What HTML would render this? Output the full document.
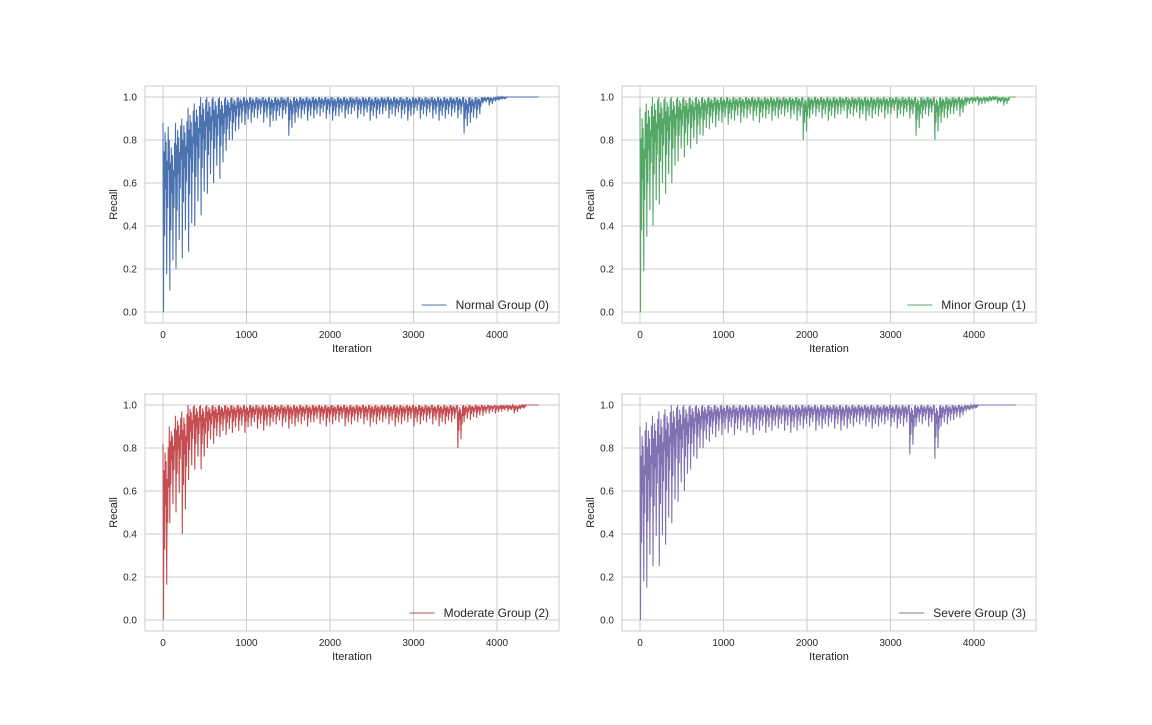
<!DOCTYPE html>
<html><head><meta charset="utf-8"><style>
html,body{margin:0;padding:0;background:#fff;}
svg text{font-family:"Liberation Sans",sans-serif;fill:#262626;}
</style></head><body>
<svg id="fig" width="1152" height="720" xmlns="http://www.w3.org/2000/svg"></svg>
<script>
const binWidth = 75;
const xTicks = [0, 1000, 2000, 3000, 4000];
const yTicks = [0.0, 0.2, 0.4, 0.6, 0.8, 1.0];
const seriesNames = ["Normal Group (0)", "Minor Group (1)", "Moderate Group (2)", "Severe Group (3)"];
const seriesColors = ["#4c72b0", "#55a868", "#c44e52", "#8172b2"];
const normalLow = [0,0.1,0.2,0.25,0.28,0.4,0.45,0.55,0.6,0.62,0.75,0.8,0.85,0.87,0.88,0.9,0.88,0.86,0.89,0.9,0.82,0.88,0.9,0.89,0.9,0.91,0.9,0.89,0.91,0.9,0.92,0.9,0.91,0.89,0.9,0.92,0.9,0.91,0.9,0.89,0.92,0.9,0.91,0.9,0.89,0.9,0.91,0.9,0.83,0.88,0.9,0.97,0.96,0.98,0.99,1,1,1,1,1];
const normalHigh = [0.88,0.8,0.88,0.9,0.95,0.97,1,1,1,1,1,1,1,1,1,1,1,1,1,1,1,1,1,1,1,1,1,1,1,1,1,1,1,1,1,1,1,1,1,1,1,1,1,1,1,1,1,1,1,1,1,1,1,1,1,1,1,1,1,1];
const minorLow = [0,0.35,0.4,0.5,0.55,0.6,0.7,0.72,0.76,0.78,0.82,0.85,0.86,0.88,0.87,0.89,0.88,0.9,0.89,0.88,0.9,0.89,0.9,0.91,0.9,0.89,0.8,0.9,0.91,0.9,0.89,0.9,0.92,0.9,0.91,0.9,0.89,0.9,0.91,0.9,0.92,0.9,0.91,0.9,0.82,0.9,0.91,0.8,0.88,0.9,0.92,0.91,0.96,0.97,0.96,0.97,0.98,0.97,0.96,1];
const minorHigh = [0.95,0.97,1,1,1,1,1,1,1,1,1,1,1,1,1,1,1,1,1,1,1,1,1,1,1,1,1,1,1,1,1,1,1,1,1,1,1,1,1,1,1,1,1,1,1,1,1,1,1,1,1,1,1,1,1,1,1,1,1,1];
const moderateLow = [0,0.45,0.5,0.4,0.65,0.7,0.7,0.8,0.82,0.85,0.86,0.87,0.88,0.87,0.9,0.89,0.88,0.9,0.91,0.9,0.89,0.9,0.91,0.9,0.92,0.91,0.9,0.91,0.92,0.9,0.91,0.92,0.91,0.9,0.91,0.92,0.91,0.9,0.91,0.92,0.9,0.91,0.92,0.91,0.9,0.91,0.92,0.8,0.92,0.93,0.94,0.95,0.96,0.96,0.97,0.97,0.96,0.98,1,1];
const moderateHigh = [0.82,0.9,0.95,0.97,1,1,1,1,1,1,1,1,1,1,1,1,1,1,1,1,1,1,1,1,1,1,1,1,1,1,1,1,1,1,1,1,1,1,1,1,1,1,1,1,1,1,1,1,1,1,1,1,1,1,1,1,1,1,1,1];
const severeLow = [0,0.15,0.25,0.25,0.35,0.45,0.55,0.6,0.7,0.75,0.8,0.83,0.85,0.86,0.87,0.86,0.88,0.87,0.86,0.88,0.87,0.88,0.89,0.88,0.87,0.88,0.89,0.9,0.88,0.89,0.9,0.89,0.88,0.89,0.9,0.91,0.9,0.89,0.9,0.91,0.9,0.89,0.9,0.77,0.9,0.91,0.9,0.75,0.9,0.91,0.93,0.94,0.97,0.98,1,1,1,1,1,1];
const severeHigh = [0.9,0.92,0.95,0.97,0.98,1,1,1,1,1,1,1,1,1,1,1,1,1,1,1,1,1,1,1,1,1,1,1,1,1,1,1,1,1,1,1,1,1,1,1,1,1,1,1,1,1,1,1,1,1,1,1,1,1,1,1,1,1,1,1];
const lows = [normalLow, minorLow, moderateLow, severeLow];
const highs = [normalHigh, minorHigh, moderateHigh, severeHigh];

const NS = "http://www.w3.org/2000/svg";
const svg = document.getElementById("fig");
function mk(tag, attrs, parent){const e=document.createElementNS(NS,tag);for(const k in attrs)e.setAttribute(k,attrs[k]);(parent||svg).appendChild(e);return e;}

// rendering-only sub-bin zigzag pattern (fraction of depth between high and low)
const depthPattern = [0, 1, 0.15, 0.6, 0.05, 0.35, 0.1, 0.8, 0.2, 0.45, 0.02, 0.25];

const panels = [{l:145,t:86},{l:622,t:86},{l:145,t:394},{l:622,t:394}];
panels.forEach((p,i)=>{
  const g = mk("g",{});
  
  
  const W=414, H=237;
  const x0=p.l+18, y0=p.t+226;
  const sx = v => x0 + v*334/4000;
  const sy = v => y0 - v*215;
  mk("rect",{x:p.l,y:p.t,width:W,height:H,fill:"#fff",stroke:"#cccccc","stroke-width":1},g);
  xTicks.forEach(t=>{
    mk("line",{x1:sx(t),x2:sx(t),y1:p.t,y2:p.t+H,stroke:"#cccccc","stroke-width":1},g);
    const tx=mk("text",{x:sx(t),y:p.t+H+15,"font-size":10,"text-anchor":"middle"},g);
    tx.textContent=t;
    
    
  });
  yTicks.forEach(t=>{
    mk("line",{x1:p.l,x2:p.l+W,y1:sy(t),y2:sy(t),stroke:"#cccccc","stroke-width":1},g);
    const ty=mk("text",{x:p.l-8,y:sy(t)+3.5,"font-size":10,"text-anchor":"end"},g);
    ty.textContent=t.toFixed(1);
    
    
  });
  const xl=mk("text",{x:p.l+W/2,y:p.t+H+29,"font-size":11,"text-anchor":"middle"},g);
  xl.textContent="Iteration";
  
  
  const yl=mk("text",{x:0,y:0,"font-size":11,"text-anchor":"middle",transform:`translate(${p.l-28},${p.t+H/2}) rotate(-90)`},g);
  yl.textContent="Recall";
  
  
  const lo=lows[i], hi=highs[i];
  let d="";
  const n=depthPattern.length;
  for(let b=0;b<lo.length;b++){
    const xb=b*binWidth;
    for(let k=0;k<n;k++){
      const x=xb+binWidth*k/n;
      const y=hi[b]-(hi[b]-lo[b])*depthPattern[k];
      d+=(b===0&&k===0?"M":"L")+sx(x).toFixed(1)+","+sy(y).toFixed(1);
    }
  }
  d+="L"+sx(lo.length*binWidth).toFixed(1)+","+sy(hi[hi.length-1]).toFixed(1);
  const path=mk("path",{d:d,fill:"none",stroke:seriesColors[i],"stroke-width":1.1},g);
  
  
  const lg=mk("g",{},g);
  
  
  const lt=mk("text",{x:p.l+W-10,y:p.t+H-14,"font-size":12,"text-anchor":"end"},lg);
  lt.textContent=seriesNames[i];
  const tw=lt.getComputedTextLength();
  const lx=p.l+W-10-tw-9;
  mk("line",{x1:lx-25,x2:lx,y1:p.t+H-18,y2:p.t+H-18,stroke:seriesColors[i],"stroke-width":1},lg);
});
</script>
</body></html>
